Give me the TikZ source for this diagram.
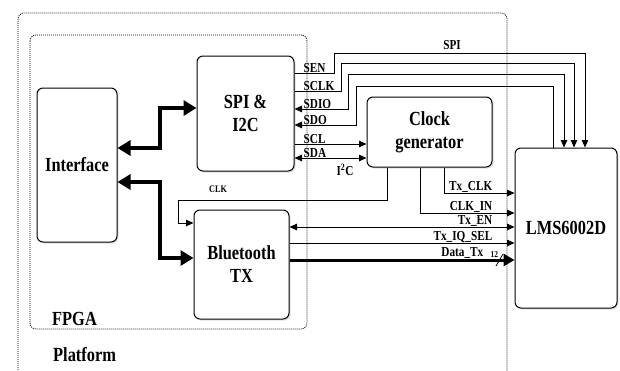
\documentclass[tikz,border=0pt]{standalone}
\usepackage{fontspec}
\setmainfont[FakeStretch=0.82]{Liberation Serif}
\usetikzlibrary{arrows.meta,shadows}
\begin{document}
\begin{tikzpicture}[x=1pt,y=-1pt,
  blk/.style={draw, line width=1pt, rounded corners=6pt, fill=white, align=center,
    font=\fontsize{20}{23}\selectfont\bfseries, inner sep=0pt,
    drop shadow={shadow xshift=1.5pt, shadow yshift=-1.5pt, opacity=0.25}},
  area/.style={draw, line width=0.8pt, dash pattern=on 1pt off 1pt, rounded corners=6pt},
  sig/.style={line width=1pt},
  tip/.style={-{Triangle[length=7.5pt,width=6.5pt]}},
  both/.style={{Triangle[length=7.5pt,width=6.5pt]}-{Triangle[length=7.5pt,width=6.5pt]}},
  bus/.style={line width=4pt, {Triangle[length=13pt,width=15pt]}-{Triangle[length=13pt,width=15pt]}},
  sl/.style={font=\fontsize{13.7}{15}\selectfont\bfseries, inner sep=0.5pt},
  big/.style={font=\fontsize{20}{22}\selectfont\bfseries, inner sep=0pt}]
\useasboundingbox (0,0) rectangle (620,370);
\clip (0,0) rectangle (620,370);
% areas
\draw[area] (18,400) -- (18,13) -- (507,13) -- (507,400);
\draw[area] (30,35) rectangle (307,329);
\node[big, anchor=south west] (fpga) at (52,326) {FPGA};
\node[big, anchor=south west] (plat) at (53,362) {Platform};
% blocks
\node[blk, minimum width=80pt, minimum height=154pt] (intf) at (77,165) {Interface};
\node[blk, minimum width=97pt, minimum height=115pt] (spi) at (245.5,113.5) {SPI \&\\I2C};
\node[blk, minimum width=95pt, minimum height=109pt] (bt) at (241.5,264.5) {Bluetooth\\TX};
\node[blk, minimum width=125pt, minimum height=70pt] (clk) at (429.5,132) {Clock\\generator};
\node[blk, minimum width=102pt, minimum height=160pt] (lms) at (566,228) {LMS6002D};
% thick buses
\draw[bus] (intf.east |- 0,148) -- (160,148) -- (160,108) -- (spi.west |- 0,108);
\draw[bus] (intf.east |- 0,182) -- (160,182) -- (160,258) -- (bt.west |- 0,258);
% SPI lines
\draw[sig,tip] (spi.east |- 0,73) -- (334,73) -- (334,53) -- (585,53) -- (lms.north -| 585,0);
\draw[sig,tip] (spi.east |- 0,91) -- (341,91) -- (341,63) -- (574,63) -- (lms.north -| 574,0);
\draw[sig,both] (spi.east |- 0,109) -- (348,109) -- (348,74) -- (564,74) -- (lms.north -| 564,0);
\draw[sig,tip] (lms.north -| 553,0) -- (553,86) -- (356,86) -- (356,125) -- (spi.east |- 0,125);
\node[sl] (spil) at (452,45) {SPI};
\node[sl, anchor=south west] (lsen) at (303,73) {SEN};
\node[sl, anchor=south west] (lsclk) at (303,91) {SCLK};
\node[sl, anchor=south west] (lsdio) at (303,109) {SDIO};
\node[sl, anchor=south west] (lsdo) at (303,125) {SDO};
% I2C
\draw[sig,tip] (spi.east |- 0,144) -- (clk.west |- 0,144);
\draw[sig,both] (spi.east |- 0,158) -- (clk.west |- 0,158);
\node[sl, anchor=south west] (lscl) at (303,144) {SCL};
\node[sl, anchor=south west] (lsda) at (303,158) {SDA};
\node[sl] (li2c) at (345,170) {I\textsuperscript{2}C};
% clock lines
\draw[sig,tip] (clk.south -| 387,0) -- (387,200) -- (178,200) -- (178,223) -- (bt.west |- 0,223);
\node[sl, font=\fontsize{10}{11}\selectfont\bfseries] (lclk) at (218,189) {CLK};
\draw[sig,tip] (clk.south -| 420,0) -- (420,213) -- (lms.west |- 0,213);
\draw[sig,tip] (clk.south -| 444,0) -- (444,193) -- (lms.west |- 0,193);
\node[sl, anchor=south east] (ltxclk) at (493,193) {Tx\_CLK};
\node[sl, anchor=south east] (lclkin) at (493,213) {CLK\_IN};
% BT lines
\draw[sig,both] (bt.east |- 0,227) -- (lms.west |- 0,227);
\draw[sig,tip] (bt.east |- 0,243) -- (lms.west |- 0,243);
\draw[line width=3pt,-{Triangle[length=11pt,width=12pt]}] (bt.east |- 0,260) -- (lms.west |- 0,260);
\node[sl, anchor=south east] (ltxen) at (493,227) {Tx\_EN};
\node[sl, anchor=south east] (ltxiq) at (493,243) {Tx\_IQ\_SEL};
\node[sl, anchor=south east] (ldata) at (484,259) {Data\_Tx};
\node[sl, font=\fontsize{9}{10}\selectfont\bfseries, anchor=south west] (l12) at (490,258) {12};
\draw[line width=0.8pt] (496,266) -- (503,254);
\end{tikzpicture}
\end{document}
